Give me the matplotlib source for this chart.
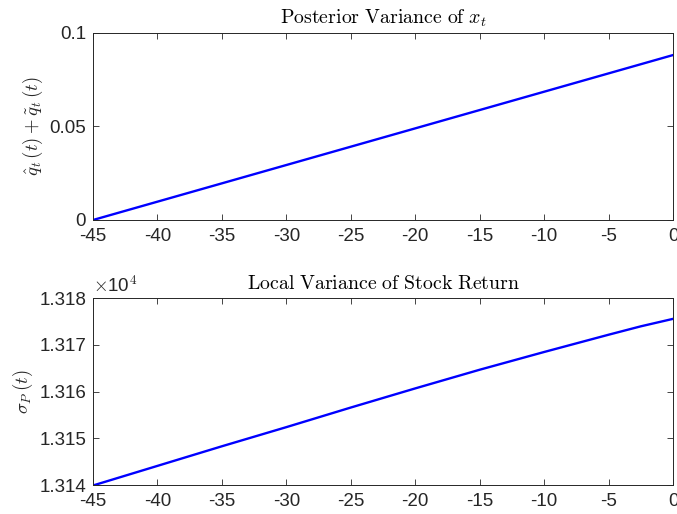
import numpy as np
import matplotlib.pyplot as plt
from matplotlib.ticker import FuncFormatter

plt.rcParams['mathtext.fontset'] = 'cm'
plt.rcParams['font.family'] = ['Liberation Sans', 'DejaVu Sans']

# posterior variance (linear in t)
t_post = [-45, 0]
post_var = [0.0, 0.0882]

# local variance of stock return
t_local = [-45, -40, -35, -30, -25, -20, -15, -10, -5, -2.5, 0]
local_var = [13139.9, 13144.1, 13148.3, 13152.4, 13156.6, 13160.7,
             13164.7, 13168.5, 13172.2, 13174.0, 13175.6]

x_ticks = list(range(-45, 1, 5))

fig = plt.figure(figsize=(6.77, 5.14), dpi=100)
ax1 = fig.add_axes([0.1374, 0.572, 0.8567, 0.3638])
ax2 = fig.add_axes([0.1374, 0.0564, 0.8567, 0.3632])

edge = '#262626'


def style(ax):
    ax.tick_params(direction='in', top=True, right=True, length=4,
                   width=0.6, colors=edge, labelsize=13.5)
    ax.tick_params(axis='x', pad=6)
    ax.tick_params(axis='y', pad=5)
    for s in ax.spines.values():
        s.set_color(edge)
        s.set_linewidth(0.7)
    ax.set_xlim(-45, 0)
    ax.set_xticks(x_ticks)
    ax.set_xticklabels([str(v) for v in x_ticks])


ax1.plot(t_post, post_var, color='#0000ff', lw=1.7)
style(ax1)
ax1.set_ylim(0, 0.1)
ax1.set_yticks([0, 0.05, 0.1])
ax1.set_yticklabels(['0', '0.05', '0.1'])
ax1.set_title(r'$\mathrm{Posterior\ Variance\ of\ }x_t$', fontsize=14.3, pad=7)
ax1.set_ylabel(r'$\hat{q}_t\,(t) + \tilde{q}_t\,(t)$', fontsize=13.5, color=edge, labelpad=3)

ax2.plot(t_local, local_var, color='#0000ff', lw=1.7)
style(ax2)
ax2.set_ylim(13140, 13180)
ax2.set_yticks([13140, 13150, 13160, 13170, 13180])
ax2.yaxis.set_major_formatter(FuncFormatter(lambda v, p: f'{v / 1e4:.3f}'))
ax2.set_title(r'$\mathrm{Local\ Variance\ of\ Stock\ Return}$', fontsize=14.3, pad=7)
ax2.set_ylabel(r'$\sigma_P\,(t)$', fontsize=13.5, color=edge, labelpad=3)
ax2.text(0.0, 1.01, r'$\times$10$^4$', transform=ax2.transAxes,
         fontsize=13.5, color=edge, ha='left', va='bottom',
         family='Liberation Sans')

fig.savefig('out.png', dpi=100)
